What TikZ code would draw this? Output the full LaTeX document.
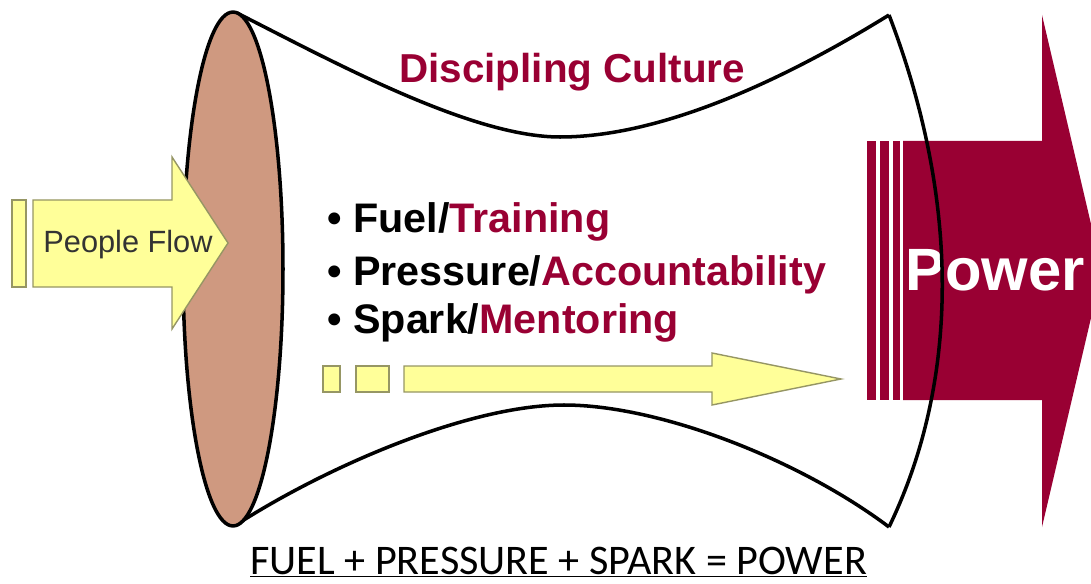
\documentclass[tikz,border=0pt]{standalone}
\usepackage{fontspec}
\setmainfont{Liberation Sans}
\newfontfamily\calibfont{Carlito}
\usepackage{xcolor}
\definecolor{wine}{RGB}{153,0,51}
\definecolor{clay}{RGB}{207,153,128}
\definecolor{lemon}{RGB}{255,255,153}
\definecolor{lemonrim}{RGB}{150,150,100}

\begin{document}
\begin{tikzpicture}[x=0.02cm,y=-0.02cm]
\clip (0,0) rectangle (1091,584);
% power arrow
\fill[wine] (903,141)--(1042,141)--(1042,15)--(1102,271)--(1042,527)--(1042,400)--(903,400)--cycle;
\foreach \a/\b in {867/876,880/889,893/900} {\fill[wine] (\a,141) rectangle (\b,400);}
\node[white,font=\bfseries\fontsize{34}{40}\selectfont,anchor=base west,inner sep=0pt](power)at(905,290){Power};
% funnel
\draw[line width=2pt](237,13)..controls(330,60)and(470,137)..(560,137)..controls(670,137)and(800,70)..(889,15);
\draw[line width=2pt](239,523)..controls(330,465)and(470,405)..(564,405)..controls(660,405)and(800,460)..(889,527);
\draw[line width=2pt](889,15)..controls(960,200)and(960,380)..(889,527);
\draw[fill=clay,line width=2pt](233,269)ellipse(1cm and 5.14cm);
% people flow
\draw[fill=lemon,draw=lemonrim,line width=0.8pt](12,200)rectangle(26,287);
\draw[fill=lemon,draw=lemonrim,line width=0.8pt](33,200)--(172,200)--(172,157)--(228,243)--(172,329)--(172,287)--(33,287)--cycle;
\node[text=black!80,font=\fontsize{17.5}{20}\selectfont,anchor=base,inner sep=0pt](flow)at(128,252){People Flow};
% lower arrow
\draw[fill=lemon,draw=lemonrim,line width=0.8pt](323,366)rectangle(340,392);
\draw[fill=lemon,draw=lemonrim,line width=0.8pt](356,366)rectangle(389,392);
\draw[fill=lemon,draw=lemonrim,line width=0.8pt](404,366)--(712,366)--(712,353)--(841,379)--(712,405)--(712,392)--(404,392)--cycle;
% texts
\node[wine,font=\bfseries\fontsize{23}{28}\selectfont,anchor=base west,inner sep=0pt](culture)at(399,83){Discipling Culture};
\node[font=\bfseries\fontsize{23.5}{28}\selectfont,anchor=base west,inner sep=0pt](fuel)at(327,233){\textbullet{} Fuel/\textcolor{wine}{Training}};
\node[font=\bfseries\fontsize{23.5}{28}\selectfont,anchor=base west,inner sep=0pt](press)at(327,285){\textbullet{} Pressure/\textcolor{wine}{Accountability}};
\node[font=\bfseries\fontsize{23.5}{28}\selectfont,anchor=base west,inner sep=0pt](spark)at(327,333){\textbullet{} Spark/\textcolor{wine}{Mentoring}};
\node[font=\calibfont\fontsize{24}{28}\selectfont,anchor=base west,inner sep=0pt](formula)at(250,574){\underline{FUEL + PRESSURE + SPARK = POWER}};
\end{tikzpicture}
\end{document}
